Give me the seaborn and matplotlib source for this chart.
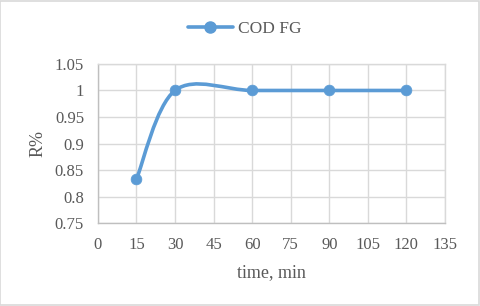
import numpy as np
import pandas as pd
import matplotlib
matplotlib.use("Agg")
import matplotlib.pyplot as plt
from matplotlib.path import Path
from matplotlib.patches import PathPatch
import seaborn as sns

# data
time_min = [15, 30, 60, 90, 120]
r_pct = [0.833, 1.0, 1.0, 1.0, 1.0]
series_name = "COD FG"
x_ticks = list(range(0, 136, 15))
y_ticks = [0.75, 0.8, 0.85, 0.9, 0.95, 1, 1.05]
y_tick_labels = ["0.75", "0.8", "0.85", "0.9", "0.95", "1", "1.05"]

blue = "#5B9BD5"
grid_c = "#D9D9D9"
text_c = "#595959"

sns.set_style("white")
plt.rcParams["font.family"] = ["Liberation Serif", "DejaVu Serif"]

df = pd.DataFrame({"time": time_min, "R": r_pct})

fig = plt.figure(figsize=(4.8, 3.06), dpi=100)
ax = fig.add_axes([0.204, 0.271, 0.723, 0.520])

# Excel-like smoothed line: cubic Bezier through the points
pts = np.column_stack([df["time"], df["R"]]).astype(float)
verts = [pts[0]]
codes = [Path.MOVETO]
n = len(pts)
for i in range(n - 1):
    p_prev = pts[i - 1] if i > 0 else pts[i]
    p_next2 = pts[i + 2] if i + 2 < n else pts[i + 1]
    c1 = pts[i] + (pts[i + 1] - p_prev) / 6
    c2 = pts[i + 1] - (p_next2 - pts[i]) / 6
    verts += [c1, c2, pts[i + 1]]
    codes += [Path.CURVE4] * 3
ax.add_patch(PathPatch(Path(verts, codes), fill=False, edgecolor=blue,
                       lw=2.6, capstyle="round", zorder=3))

sns.scatterplot(data=df, x="time", y="R", ax=ax, color=blue, s=60,
                edgecolor=blue, linewidth=0.5, zorder=4, legend=False)

ax.set_xlim(0, 135)
ax.set_ylim(0.75, 1.05)
ax.set_xticks(x_ticks)
ax.set_yticks(y_ticks)
ax.set_yticklabels(y_tick_labels)
ax.grid(True, color=grid_c, lw=1)
ax.set_axisbelow(True)
for s in ["top", "right"]:
    ax.spines[s].set_color(grid_c)
    ax.spines[s].set_linewidth(1)
for s in ["left", "bottom"]:
    ax.spines[s].set_color("#BFBFBF")
    ax.spines[s].set_linewidth(1)
ax.tick_params(length=0, labelsize=12, labelcolor=text_c, pad=10)
ax.set_xlabel("time, min", fontsize=13, color=text_c, labelpad=8)
ax.set_ylabel("R%", fontsize=13, color=text_c, labelpad=6)

handle = plt.Line2D([], [], color=blue, lw=2.6, marker="o", markersize=8)
fig.legend([handle], [series_name], loc="center", bbox_to_anchor=(0.51, 0.905),
           frameon=False, fontsize=12.5, labelcolor=text_c, handlelength=2.6,
           handletextpad=0.3)

fig.patches.append(plt.Rectangle((0.001, 0.002), 0.997, 0.995, transform=fig.transFigure,
                                 fill=False, edgecolor="#D9D9D9", lw=1.2))

fig.savefig("out.png", dpi=100)
